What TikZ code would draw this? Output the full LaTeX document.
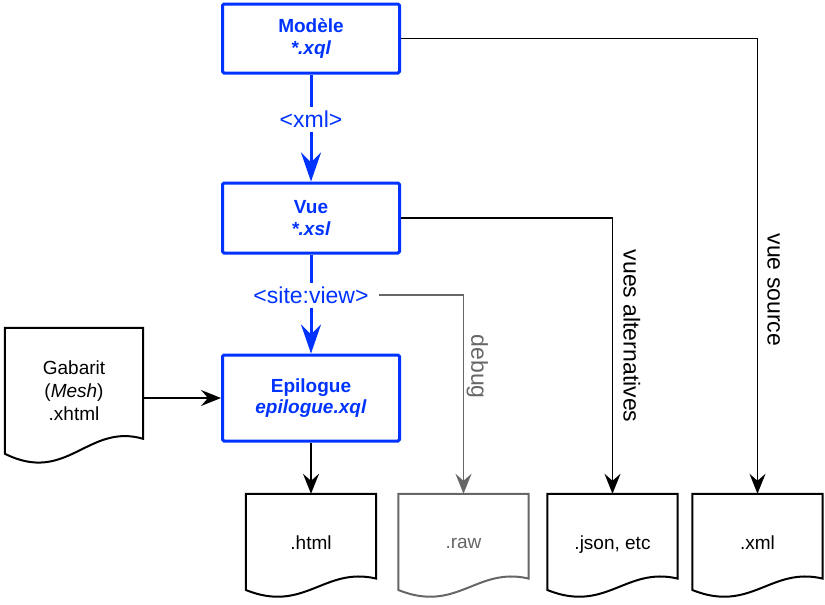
\documentclass[tikz,border=0pt]{standalone}
\usepackage{fontspec}
\setmainfont{Liberation Sans}
\usetikzlibrary{arrows.meta,calc}
\definecolor{myblue}{RGB}{0,51,255}
\definecolor{mygrey}{RGB}{102,102,102}
\newcommand\nodefont{\fontsize{19}{21.5}\selectfont}
\newcommand\docfont{\fontsize{19}{23}\selectfont}
\newcommand\lblfont{\fontsize{23}{26}\selectfont}
\newcommand\lift[1]{\rule[-#1]{0pt}{#1}}
\newcommand\docoutline[2]{%
  \draw[#2] let \p1=(#1.north west), \p2=(#1.south east) in
    (\p1) -- (\x2,\y1) -- (\x2,{\y1-0.82*(\y1-\y2)})
    .. controls ({\x1+0.6*(\x2-\x1)},{\y1-0.70*(\y1-\y2)}) and ({\x1+0.45*(\x2-\x1)},{\y1-1.16*(\y1-\y2)}) .. (\x1,{\y1-0.93*(\y1-\y2)}) -- cycle;}
\tikzset{
  bluebox/.style={draw=myblue, line width=3pt, rounded corners=1.5pt, minimum width=177pt,
    text=myblue, font=\nodefont\bfseries, align=center, inner sep=0pt},
  docnode/.style={minimum width=130pt, minimum height=103pt, inner sep=0pt, font=\docfont, align=center},
  lbl/.style={fill=white, text=myblue, font=\lblfont, inner xsep=2pt, inner ysep=4pt},
  sidelbl/.style={font=\lblfont, rotate=-90, anchor=south, inner sep=0pt},
  bluearrow/.style={draw=myblue, line width=3pt, -{Stealth[length=29pt,width=20pt,inset=10pt]}},
  blackarrow/.style={draw=black, line width=1.7pt, -{Stealth[length=20pt,width=16pt,inset=7pt]}},
  greyarrow/.style={draw=mygrey, line width=1.7pt, -{Stealth[length=20pt,width=16pt,inset=7pt]}},
  docline/.style={line width=2pt, line join=miter}
}
\begin{document}
\begin{tikzpicture}[x=1pt,y=-1pt]
\useasboundingbox (0,0) rectangle (825,605);

\node[bluebox, minimum height=69pt] (mod) at (311,38.5) {Modèle\\\textit{*.xql}};
\node[bluebox, minimum height=70pt] (vue) at (311,218) {Vue\\\textit{*.xsl}};
\node[bluebox, minimum height=86pt] (epi) at (311,398) {Epilogue\\\textit{epilogue.xql}};

\node[docnode, minimum width=138pt, minimum height=135pt] (gab) at (74,395.5) {Gabarit\\(\textit{Mesh})\\.xhtml\lift{9pt}};
\node[docnode] (html) at (311,545.5) {.html\lift{5pt}};
\node[docnode, text=mygrey] (raw) at (463.5,545.5) {.raw\lift{5pt}};
\node[docnode] (json) at (612.5,545.5) {.json, etc\lift{5pt}};
\node[docnode] (xml) at (757.5,545.5) {.xml\lift{5pt}};

\docoutline{gab}{docline, draw=black}
\docoutline{html}{docline, draw=black}
\docoutline{raw}{docline, draw=mygrey}
\docoutline{json}{docline, draw=black}
\docoutline{xml}{docline, draw=black}

\draw[bluearrow] (mod) -- node[lbl, pos=0.42] (xmllbl) {<xml>} (vue);
\draw[bluearrow] (vue) -- node[lbl, pos=0.41] (sv) {<site:view>} (epi);

\draw[greyarrow, shorten <=7pt] (sv.east) -| node[sidelbl, text=mygrey, pos=0.68, outer sep=3pt] (dbg) {debug} (raw.north);
\draw[blackarrow] (vue.east) -| node[sidelbl, pos=0.714, outer sep=11pt] (alt) {vues alternatives} (json.north);
\draw[blackarrow] (mod.east) -| node[sidelbl, pos=0.776, outer sep=10pt] (src) {vue source} (xml.north);

\draw[blackarrow] (epi) -- (html);
\draw[blackarrow] (epi.west -| gab.east) -- (epi.west);
\end{tikzpicture}
\end{document}
